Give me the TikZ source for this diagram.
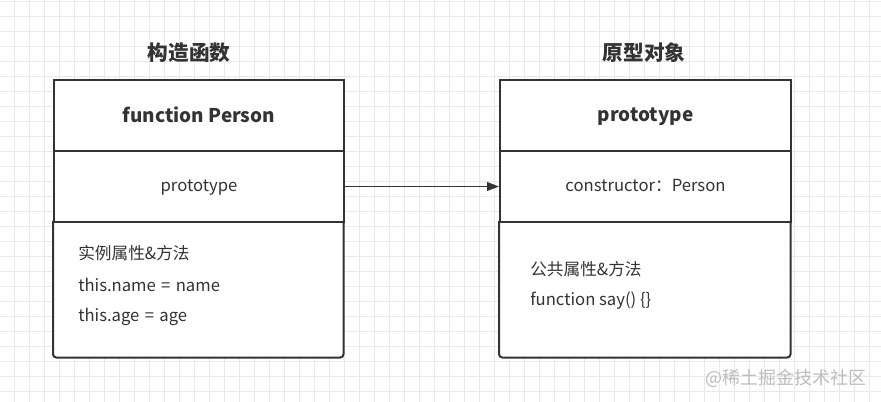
\documentclass[tikz,border=0pt]{standalone}
\usepackage{fontspec}
\setmainfont{Noto Sans CJK SC}
\usetikzlibrary{arrows.meta,positioning}
\definecolor{ink}{HTML}{333333}
\definecolor{gridc}{HTML}{E9E9E9}
\definecolor{wm}{HTML}{BDBDBD}
\tikzset{
  boxpart/.style={draw=ink, line width=1.5pt, rectangle, inner sep=0pt, minimum width=217.5pt, anchor=north west},
  headbox/.style={boxpart, minimum height=53.25pt, font=\fontsize{14.2}{17}\selectfont\bfseries, text=ink, text depth=1.5pt},
  midbox/.style={boxpart, minimum height=53.25pt, font=\fontsize{12.5}{15}\selectfont, text=ink, text depth=1.5pt},
  bodybox/.style={rectangle, inner sep=0pt, minimum width=217.5pt, minimum height=102pt, anchor=north west},
  bodytxt/.style={anchor=west, inner sep=0pt, font=\fontsize{12.5}{15}\selectfont, text=ink},
  titletxt/.style={font=\fontsize{15.5}{18}\selectfont\bfseries, text=ink, inner sep=0pt},
}
\begin{document}
\begin{tikzpicture}[x=0.75pt,y=-0.75pt]
\useasboundingbox (0,0) rectangle (881,402);
\fill[white] (0,0) rectangle (881,402);
% grid
\foreach \gx in {0,...,58} {\draw[gridc, line width=0.75pt] ({14+15*\gx},0) -- ({14+15*\gx},402);}
\foreach \gy in {0,...,26} {\draw[gridc, line width=0.75pt] (0,{1.5+15*\gy}) -- (881,{1.5+15*\gy});}
% titles
\node[titletxt] (t1) at (189,53) {构造函数};
\node[titletxt] (t2) at (644,53) {原型对象};
% left box
\fill[white] (53,79) rectangle (343,357);
\node[headbox] (lh) at (53,79) {function Person};
\node[midbox] (lm) at (53,150) {prototype};
\node[bodybox] (lb) at (53,221) {};
\draw[ink, line width=1.5pt, rounded corners=2.5pt] (lb.north west) -- (lb.south west) -- (lb.south east) -- (lb.north east);
\node[bodytxt] (l1) at (78,253) {实例属性\&方法};
\node[bodytxt] (l2) at (78,285) {this.name\hspace{4pt}=\hspace{4pt}name};
\node[bodytxt] (l3) at (78,317) {this.age\hspace{4pt}=\hspace{4pt}age};
% right box
\fill[white] (499,79) rectangle (790,357);
\node[headbox, minimum width=218.25pt] (rh) at (499,79) {prototype};
\node[midbox, minimum width=218.25pt] (rm) at (499,150) {constructor：Person};
\node[bodybox, minimum width=218.25pt] (rb) at (499,221) {};
\draw[ink, line width=1.5pt, rounded corners=2.5pt] (rb.north west) -- (rb.south west) -- (rb.south east) -- (rb.north east);
\node[bodytxt] (r1) at (530,269) {公共属性\&方法};
\node[bodytxt] (r2) at (530,301) {function say() \{\}};
% arrow
\draw[ink, line width=1.4pt, -{Triangle[length=9pt,width=6.5pt]}] (lm.east) -- (rm.west);
% watermark
\node[anchor=west, inner sep=0pt, text=wm, font=\fontsize{13.5}{16}\selectfont] (wmk) at (705,378) {@稀土掘金技术社区};
\end{tikzpicture}
\end{document}
